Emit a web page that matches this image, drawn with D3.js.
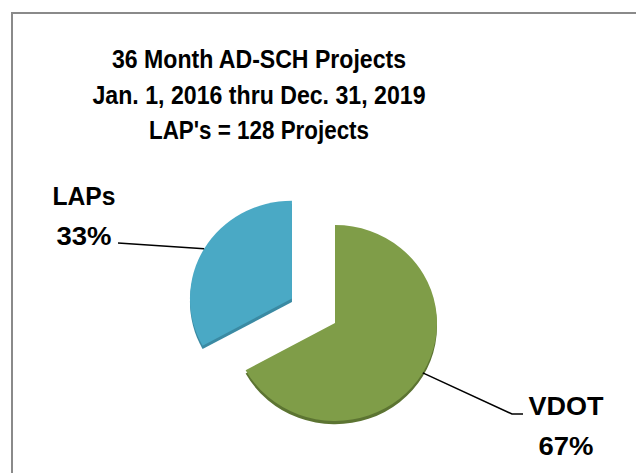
<!DOCTYPE html>
<html>
<head>
<meta charset="utf-8">
<script src="https://cdn.jsdelivr.net/npm/d3@7"></script>
<style>
  html, body { margin: 0; padding: 0; background: #fff; }
  svg { display: block; }
  text { font-family: "Liberation Sans", Arial, sans-serif; font-weight: bold; fill: #000; }
</style>
</head>
<body>
<svg id="chart" width="636" height="473"></svg>
<script>
// ---- data ----
const categories = ["VDOT", "LAPs"];
const values = [67, 33];
const percentLabels = ["67%", "33%"];
const titleLines = ["36 Month AD-SCH Projects", "Jan. 1, 2016 thru Dec. 31, 2019", "LAP's = 128 Projects"];
const titleWidths = [294, 333, 220];
const explode = [0, 50];
const colors = ["#7f9d48", "#4aa9c5"];
const shadowColors = ["#5c7432", "#3a8aa3"];

const svg = d3.select("#chart");

// chart border (top and left visible)
svg.append("path")
  .attr("d", "M12,480 L12,13 L640,13")
  .attr("fill", "none")
  .attr("stroke", "#8a8a8a")
  .attr("stroke-width", 2);

// title
const title = svg.append("text").attr("text-anchor", "middle").attr("font-size", 26);
titleLines.forEach((t, i) => {
  title.append("tspan")
    .attr("x", 259)
    .attr("y", 68 + i * 35.5)
    .attr("textLength", titleWidths[i])
    .attr("lengthAdjust", "spacingAndGlyphs")
    .text(t);
});

// pie
const cx = 335, cy = 323, r = 102, sy = 0.96;
const pie = d3.pie().sort(null).value(d => d)(values);
const arc = d3.arc().innerRadius(0).outerRadius(r);

const g = svg.append("g").attr("transform", `translate(${cx},${cy}) scale(1,${sy})`);

function dir(a) { return [Math.sin(a), -Math.cos(a)]; }

pie.forEach((d, i) => {
  const mid = (d.startAngle + d.endAngle) / 2;
  const [dx, dy] = dir(mid);
  const off = [dx * explode[i], dy * explode[i]];
  const sg = g.append("g").attr("transform", `translate(${off[0]},${off[1]})`);
  sg.append("path").attr("d", arc(d)).attr("fill", shadowColors[i])
    .attr("transform", "translate(0,3.5)");
  sg.append("path").attr("d", arc(d)).attr("fill", colors[i]);
  d.anchor = [cx + off[0] + dx * r, cy + (off[1] + dy * r) * sy];
});

// leader lines and labels
const leaders = [
  [pie[0].anchor, [512, 414], [523, 414]],
  [pie[1].anchor, [118, 243]]
];
const line = d3.line();
leaders.forEach(pts => {
  svg.append("path").attr("d", line(pts)).attr("fill", "none")
    .attr("stroke", "#000").attr("stroke-width", 1.5);
});

const labelPos = [[566, 415], [84, 205]];
const labelWidths = [[75, 55], [63, 55]];
pie.forEach((d, i) => {
  const t = svg.append("text").attr("text-anchor", "middle").attr("font-size", 26);
  t.append("tspan").attr("x", labelPos[i][0]).attr("y", labelPos[i][1])
    .attr("textLength", labelWidths[i][0]).attr("lengthAdjust", "spacingAndGlyphs")
    .text(categories[i]);
  t.append("tspan").attr("x", labelPos[i][0]).attr("y", labelPos[i][1] + 40)
    .attr("textLength", labelWidths[i][1]).attr("lengthAdjust", "spacingAndGlyphs")
    .text(percentLabels[i]);
});
</script>
</body>
</html>
